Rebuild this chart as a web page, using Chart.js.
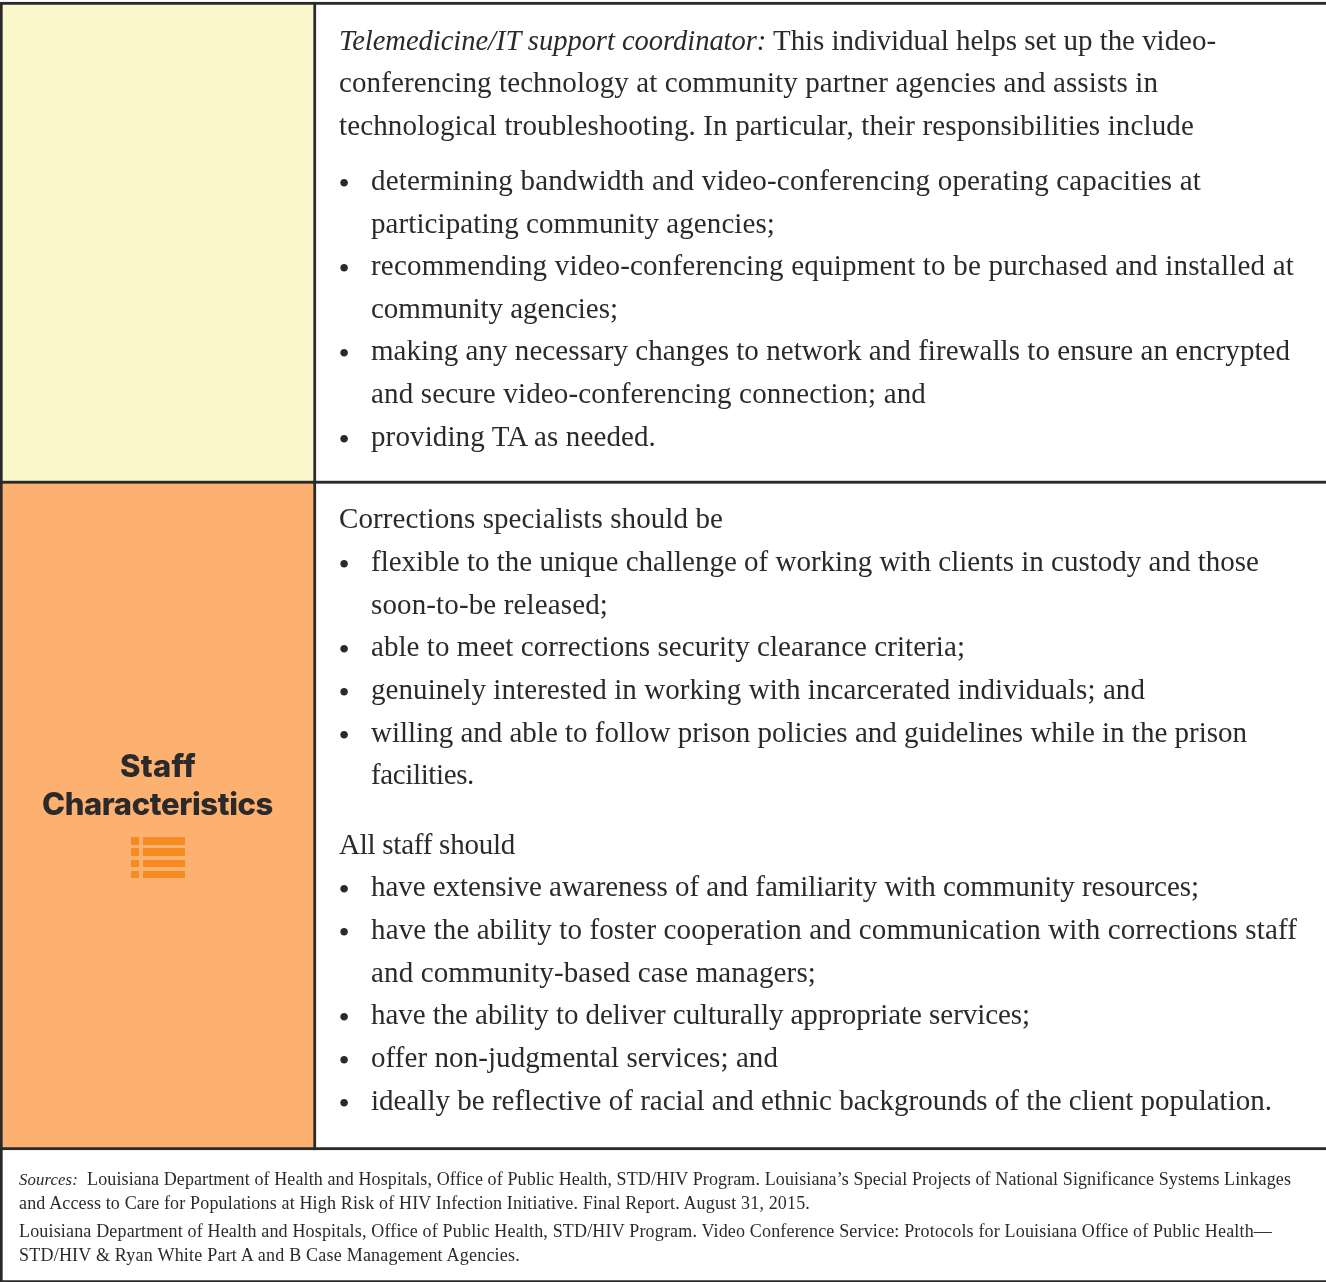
<!DOCTYPE html>
<html>
<head>
<meta charset="utf-8">
<style>
html,body{ margin:0; padding:0; background:#fff; }
#wrap{ position:relative; width:1326px; height:1282px; overflow:hidden; color:#2b2a2b; }
canvas{ position:absolute; left:0; top:0; }
.ln{ position:absolute; white-space:nowrap; line-height:0; font-family:"Liberation Serif",serif; }
.ln i.a{ font-size:.985em; }
.ln i.b{ font-size:.93em; }
.head{ position:absolute; white-space:nowrap; line-height:0; font-family:Inter,sans-serif; font-weight:800; }
.ico{ position:absolute; top:837px; height:41px; background:repeating-linear-gradient(#f68b1f 0 7.6px,transparent 7.6px 11.4px); }
</style>
</head>
<body>
<div id="wrap">
  <canvas id="ch-table" width="1326" height="1282"></canvas>
  <div class="ico" style="left:131px;width:8px"></div>
  <div class="ico" style="left:143px;width:42px"></div>
</div>
<script src="https://cdn.jsdelivr.net/npm/chart.js@4"></script>
<script>
// ── TABLE CELLS ──
const rowLabels=['Telemedicine/IT support coordinator','Staff Characteristics','Sources'];
const rowSpans=[[2,483.5],[480.5,1150],[1147,1283]];
const headCol=[0,316], bodyCol=[313,1345], fullCol=[0,1345];
const LINE='#2b2a2b', YELLOW='#fbf8cd', ORANGE='#fdb170';

// text, left, baseline, right edge
const bodyText=[
  ['<i class="a">Telemedicine/IT support coordinator:</i> This individual helps set up the video-',339,50,1216],
  ['conferencing technology at community partner agencies and assists in',339,92,1158],
  ['technological troubleshooting. In particular, their responsibilities include',339,135,1194],
  ['Corrections specialists should be',339,528,723],
  ['All staff should',339,854,515]
];
const bulletText=[
  ['determining bandwidth and video-conferencing operating capacities at',190,1201,true],
  ['participating community agencies;',233,775,false],
  ['recommending video-conferencing equipment to be purchased and installed at',275,1294,true],
  ['community agencies;',318,618,false],
  ['making any necessary changes to network and firewalls to ensure an encrypted',360,1290,true],
  ['and secure video-conferencing connection; and',403,926,false],
  ['providing TA as needed.',446,656,true],
  ['flexible to the unique challenge of working with clients in custody and those',571,1259,true],
  ['soon-to-be released;',614,608,false],
  ['able to meet corrections security clearance criteria;',656,965,true],
  ['genuinely interested in working with incarcerated individuals; and',699,1145,true],
  ['willing and able to follow prison policies and guidelines while in the prison',742,1247,true],
  ['facilities.',784,474,false],
  ['have extensive awareness of and familiarity with community resources;',896,1199,true],
  ['have the ability to foster cooperation and communication with corrections staff',939,1297,true],
  ['and community-based case managers;',982,816,false],
  ['have the ability to deliver culturally appropriate services;',1024,1030,true],
  ['offer non-judgmental services; and',1067,778,true],
  ['ideally be reflective of racial and ethnic backgrounds of the client population.',1110,1272,true]
];
const sourceText=[
  ['<i class="b">Sources:</i>&nbsp; Louisiana Department of Health and Hospitals, Office of Public Health, STD/HIV Program. Louisiana’s Special Projects of National Significance Systems Linkages',1185,1291],
  ['and Access to Care for Populations at High Risk of HIV Infection Initiative. Final Report. August 31, 2015.',1209,810],
  ['Louisiana Department of Health and Hospitals, Office of Public Health, STD/HIV Program. Video Conference Service: Protocols for Louisiana Office of Public Health—',1237,1272],
  ['STD/HIV &amp; Ryan White Part A and B Case Management Agencies.',1261,520]
];
const headText=[['Staff',777,120,196],['Characteristics',815,42,273]];

function cell(label,col,span,color){
  return { label, backgroundColor:color, borderColor:LINE, borderWidth:3, borderSkipped:false,
    barThickness:col[1]-col[0], grouped:false, clip:false,
    data:[{ x:(col[0]+col[1])/2, y:span }] };
}

new Chart(document.getElementById('ch-table'),{
  type:'bar',
  data:{ datasets:[
    cell(rowLabels[0],headCol,rowSpans[0],YELLOW),
    cell(rowLabels[0],bodyCol,rowSpans[0],'#fff'),
    cell(rowLabels[1],headCol,rowSpans[1],ORANGE),
    cell(rowLabels[1],bodyCol,rowSpans[1],'#fff'),
    cell(rowLabels[2],fullCol,rowSpans[2],'#fff')
  ] },
  options:{ responsive:false, animation:false, layout:{padding:0},
    plugins:{ legend:{display:false}, tooltip:{enabled:false} },
    scales:{
      x:{ type:'linear', min:0, max:1326, offset:false, display:false },
      y:{ type:'linear', min:0, max:1282, reverse:true, display:false }
    }
  }
});

// ── TEXT ──
const wrap=document.getElementById('wrap');
function put(html,x,base,size,right,cls){
  const el=document.createElement('div');
  el.className=cls||'ln';
  el.innerHTML=html;
  el.style.fontSize=size+'px';
  el.style.left=x+'px';
  el.style.top=(base-size*0.3375)+'px';
  wrap.appendChild(el);
  if(right){
    const w=el.getBoundingClientRect().width;
    el.style.letterSpacing=((right-x-w)/el.textContent.length)+'px';
  }
  return el;
}
const BODY=29, SRC=18;
bodyText.forEach(t=>put(t[0],t[1],t[2],BODY,t[3]));
bulletText.forEach(t=>{
  put(t[0],371,t[1],BODY,t[2]);
  if(t[3]) put('•',338.5,t[1]+4,32);
});
sourceText.forEach(t=>put(t[0],19,t[1],SRC,t[2]));
headText.forEach(t=>{
  const el=put(t[0],t[2],t[1],31,t[3],'head');
  el.style.top=(t[1]-11)+'px';
});
</script>
</body>
</html>
